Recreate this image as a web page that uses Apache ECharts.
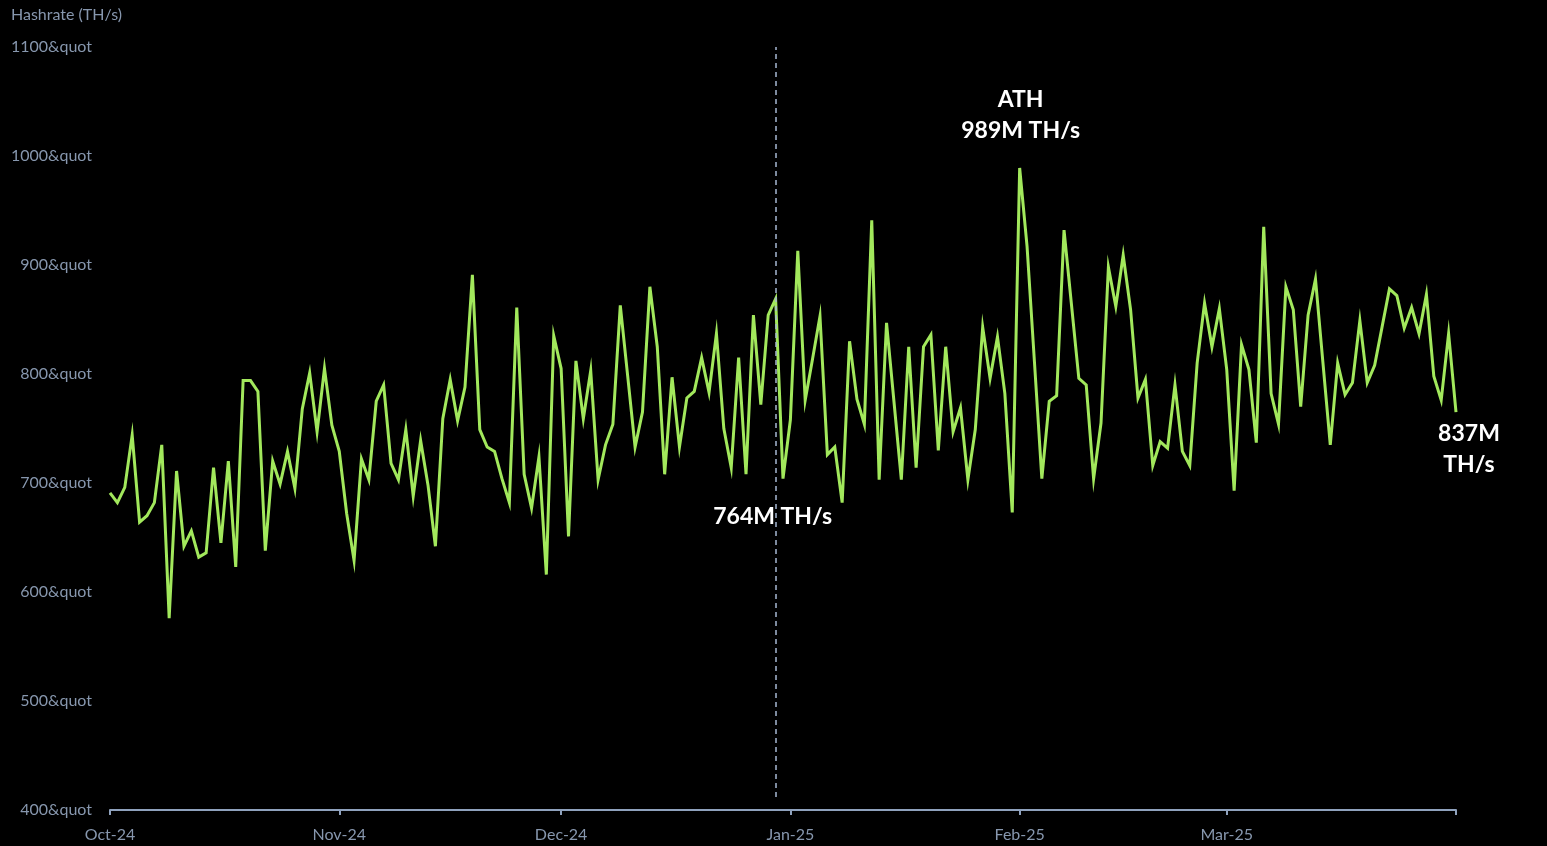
<!DOCTYPE html>
<html>
<head>
<meta charset="utf-8">
<script src="https://cdn.jsdelivr.net/npm/echarts@6/dist/echarts.min.js"></script>
<style>
  html, body { margin: 0; padding: 0; background: #000; }
  #chart { width: 1547px; height: 846px; }
</style>
</head>
<body>
<div id="chart"></div>
<script>
// ---- Data (daily hashrate, TH/s in millions) ----
const startDate = '2024-10-01';
const hashrate = [
  691, 682, 696, 744, 664, 670, 682, 735, 576, 711,
  642, 656, 632, 636, 714, 645, 720, 623, 794, 794,
  784, 638, 720, 699, 729, 695, 768, 801, 747, 805,
  753, 729, 672, 629, 722, 703, 775, 790, 718, 703,
  749, 688, 739, 698, 642, 759, 795, 757, 788, 891,
  749, 733, 729, 704, 682, 861, 708, 677, 724, 616,
  835, 805, 651, 812, 759, 803, 703, 735, 754, 863,
  798, 733, 765, 880, 825, 708, 797, 733, 778, 784,
  815, 783, 837, 750, 714, 815, 708, 854, 772, 854,
  869, 704, 758, 913, 776, 814, 853, 726, 733, 682,
  830, 777, 754, 941, 703, 847, 775, 703, 825, 714,
  825, 836, 730, 825, 747, 769, 703, 749, 843, 796,
  834, 782, 673, 989, 917, 811, 704, 775, 780, 932,
  864, 796, 790, 704, 755, 898, 862, 909, 859, 778,
  795, 716, 738, 732, 790, 729, 716, 810, 865, 825,
  860, 804, 693, 827, 804, 737, 935, 782, 754, 880,
  859, 770, 854, 887, 811, 735, 810, 781, 792, 849,
  792, 808, 843, 878, 872, 842, 861, 837, 873, 798,
  776, 837, 765
];
const monthLabels = { '2024-10': 'Oct-24', '2024-11': 'Nov-24', '2024-12': 'Dec-24',
                      '2025-01': 'Jan-25', '2025-02': 'Feb-25', '2025-03': 'Mar-25' };
const yTicks = [400, 500, 600, 700, 800, 900, 1000, 1100];
const markerDate = '2024-12-30';
const markerText = '764M TH/s';
const athText = 'ATH\n989M TH/s';
const lastText = '837M\nTH/s';
const markerLabelValue = 669;
const lastLabelValue = 731;
const dashTop = 1100, dashBottom = 412;

// Build daily categories
const categories = [];
(function () {
  const d = new Date(startDate + 'T00:00:00Z');
  for (let i = 0; i < hashrate.length; i++) {
    const c = new Date(d.getTime() + i * 86400000);
    categories.push(c.toISOString().slice(0, 10));
  }
})();
const athIndex = hashrate.indexOf(Math.max.apply(null, hashrate));
const lastIndex = hashrate.length - 1;

const axisColor = '#8fa2bd';
const textColor = '#8797ae';
const fontFam = 'Lato, "Open Sans", sans-serif';

const chart = echarts.init(document.getElementById('chart'));
chart.setOption({
  backgroundColor: '#000000',
  animation: false,
  title: {
    text: 'Hashrate (TH/s)',
    left: 6, top: 2,
    textStyle: { color: textColor, fontSize: 16, fontWeight: 'normal', fontFamily: fontFam }
  },
  grid: { left: 110, right: 91, top: 47, bottom: 36, containLabel: false },
  xAxis: {
    type: 'category',
    data: categories,
    boundaryGap: false,
    axisLine: { show: true, lineStyle: { color: axisColor, width: 2 } },
    axisTick: {
      show: true, length: 5,
      lineStyle: { color: axisColor, width: 2 },
      interval: function (i, v) { return v.slice(8) === '01'; }
    },
    axisLabel: {
      color: textColor, fontSize: 16, fontFamily: fontFam, margin: 17,
      interval: function (i, v) { return v.slice(8) === '01' && monthLabels[v.slice(0, 7)] !== undefined; },
      formatter: function (v) { return monthLabels[v.slice(0, 7)] || ''; }
    },
    splitLine: { show: false }
  },
  yAxis: {
    type: 'value',
    min: yTicks[0], max: yTicks[yTicks.length - 1], interval: 100,
    axisLine: { show: false },
    axisTick: { show: false },
    splitLine: { show: false },
    axisLabel: {
      color: textColor, fontSize: 16, fontFamily: fontFam, margin: 18,
      formatter: function (v) { return v + '&quot'; }
    }
  },
  series: [{
    type: 'line',
    data: hashrate,
    showSymbol: false,
    symbol: 'none',
    lineStyle: { color: '#a2e85c', width: 3, join: 'miter' },
    itemStyle: { color: '#a2e85c' },
    markLine: {
      silent: true,
      symbol: ['none', 'none'],
      label: { show: false },
      lineStyle: { color: '#a6b8d2', type: [5, 4], width: 1.5 },
      data: [[{ coord: [markerDate, dashBottom] }, { coord: [markerDate, dashTop] }]]
    },
    markPoint: {
      silent: true,
      symbol: 'rect',
      symbolSize: 1,
      itemStyle: { color: 'rgba(0,0,0,0)' },
      label: {
        show: true, position: 'inside', color: '#ffffff',
        fontSize: 23, fontWeight: 'bold', fontFamily: fontFam, lineHeight: 31, align: 'center'
      },
      data: [
        { coord: [categories[athIndex], hashrate[athIndex]], label: { formatter: athText, offset: [1, -53] } },
        { coord: [markerDate, markerLabelValue], label: { formatter: markerText, offset: [-3, 0] } },
        { coord: [categories[lastIndex], lastLabelValue], label: { formatter: lastText, offset: [13, 0] } }
      ]
    }
  }]
});
</script>
</body>
</html>
